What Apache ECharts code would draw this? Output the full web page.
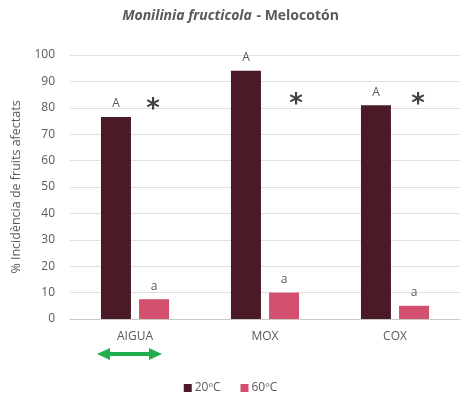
<!DOCTYPE html>
<html>
<head>
<meta charset="utf-8">
<script src="https://cdn.jsdelivr.net/npm/echarts@6/dist/echarts.min.js"></script>
<style>
  html, body { margin: 0; padding: 0; background: #fff; }
  #main { width: 461px; height: 403px; }
</style>
</head>
<body>
<div id="main"></div>
<script>
// dades
const categories = ['AIGUA', 'MOX', 'COX'];
const seriesNames = ['20ºC', '60ºC'];
const values20 = [76.5, 94, 81];
const values60 = [7.5, 10, 5];
const letters20 = ['A', 'A', 'A'];
const letters60 = ['a', 'a', 'a'];
const starValues = [79, 81, 81]; // alçada dels asteriscs
const yTicks = [0, 10, 20, 30, 40, 50, 60, 70, 80, 90, 100];

const starDx = [18, 31, 23]; // desplaçament horitzontal de cada asterisc
const grey = '#595959';
const font = 'Open Sans';

var myChart = echarts.init(document.getElementById('main'));

const option = {
  animation: false,
  textStyle: { fontFamily: font },
  title: {
    text: '{i|Monilinia fructicola} {b|- Melocotón}',
    left: 'center',
    top: 2,
    textStyle: {
      rich: {
        i: { fontStyle: 'italic', fontWeight: 'bold', fontSize: 14, color: grey, fontFamily: font },
        b: { fontWeight: 'bold', fontSize: 14, color: grey, fontFamily: font }
      }
    }
  },
  legend: {
    data: seriesNames,
    bottom: 4,
    left: 'center',
    itemWidth: 8,
    itemHeight: 8,
    itemGap: 20,
    icon: 'rect',
    textStyle: { color: grey, fontSize: 12, fontFamily: font, padding: [0, 0, 0, -2] }
  },
  grid: { left: 70, right: 1, top: 55, bottom: 84 },
  xAxis: {
    type: 'category',
    data: categories,
    axisTick: { show: false },
    axisLine: { lineStyle: { color: '#c8c8c8', width: 1 } },
    axisLabel: { color: grey, fontSize: 12, margin: 12 }
  },
  yAxis: {
    type: 'value',
    min: yTicks[0],
    max: yTicks[yTicks.length - 1],
    interval: 10,
    name: '% Incidència de fruits afectats',
    nameLocation: 'middle',
    nameGap: 47,
    nameTextStyle: { color: grey, fontSize: 12.5 },
    axisLine: { show: false },
    axisTick: { show: false },
    axisLabel: { color: grey, fontSize: 12, margin: 15 },
    splitLine: { lineStyle: { color: '#e0e0e0', width: 1 } }
  },
  series: [
    {
      name: seriesNames[0],
      type: 'bar',
      data: values20,
      barWidth: 30,
      barGap: '27%',
      itemStyle: { color: '#4a1b26' },
      label: {
        show: true,
        position: 'top',
        distance: 7,
        color: grey,
        fontSize: 12,
        formatter: p => letters20[p.dataIndex]
      }
    },
    {
      name: seriesNames[1],
      type: 'bar',
      data: values60,
      barWidth: 30,
      itemStyle: { color: '#d4506f' },
      label: {
        show: true,
        position: 'top',
        distance: 7,
        color: grey,
        fontSize: 12,
        formatter: p => letters60[p.dataIndex]
      }
    },
    {
      name: 'sig',
      type: 'scatter',
      data: starValues.map((v, i) => ({
        value: [categories[i], v],
        label: { offset: [starDx[i], 0] }
      })),
      symbolSize: 1,
      itemStyle: { color: 'rgba(0,0,0,0)' },
      silent: true,
      z: 5,
      label: {
        show: true,
        position: 'inside',
        formatter: '*',
        color: '#111',
        fontSize: 26,
        fontWeight: 'bold',
        fontFamily: 'DejaVu Sans'
      }
    }
  ],
  graphic: [
    {
      type: 'group',
      left: 97,
      top: 348,
      children: [
        { type: 'rect', shape: { x: 10, y: 4, width: 45, height: 4 }, style: { fill: '#1fae4b' } },
        { type: 'polygon', shape: { points: [[0, 6], [13, 0], [13, 12]] }, style: { fill: '#1fae4b' } },
        { type: 'polygon', shape: { points: [[65, 6], [52, 0], [52, 12]] }, style: { fill: '#1fae4b' } }
      ]
    }
  ]
};

myChart.setOption(option);
</script>
</body>
</html>
